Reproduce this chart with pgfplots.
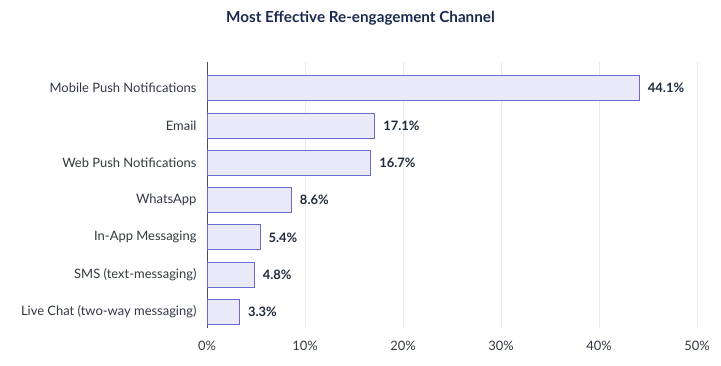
\documentclass[border=0pt]{standalone}
\usepackage{pgfplots}
\pgfplotsset{compat=1.18}
\usepackage{fontspec}
\setmainfont{Lato}
\definecolor{barfill}{HTML}{EAEAF9}
\definecolor{barline}{HTML}{6B6BD1}
\definecolor{gridgray}{HTML}{EBEBEF}
\definecolor{titlenavy}{HTML}{1B2A4E}
\definecolor{labelgray}{HTML}{333840}
\definecolor{valnavy}{HTML}{1E2A3A}
\begin{document}
\begin{tikzpicture}
\path[use as bounding box] (-207bp,-38bp) rectangle (514bp,328bp);
\node[font=\fontsize{15.3}{18}\selectfont\bfseries, text=titlenavy] at (153.5bp,310bp) {Most Effective Re-engagement Channel};
\begin{axis}[
  scale only axis, width=490bp, height=266bp,
  xmin=0, xmax=50, ymin=-0.43, ymax=6.7,
  xtick={0,10,20,30,40,50},
  xticklabels={0\%,10\%,20\%,30\%,40\%,50\%},
  ytick={0,1,2,3,4,5,6},
  yticklabels={Live Chat (two-way messaging),SMS (text-messaging),In-App Messaging,WhatsApp,Web Push Notifications,Email,Mobile Push Notifications},
  xmajorgrids, grid style={draw=gridgray, line width=0.7pt},
  axis y line*=left, axis x line*=bottom,
  x axis line style={draw=none},
  y axis line style={draw=black!70, line width=0.8pt, -},
  major tick length=0pt,
  tick label style={font=\fontsize{13}{15}\selectfont, text=labelgray},
  yticklabel style={xshift=-7bp},
  xticklabel style={yshift=-10bp},
]
\addplot[xbar, bar width=25bp, fill=barfill, draw=barline, line width=0.8pt,
  point meta=x,
  nodes near coords={\pgfmathprintnumber[fixed,fixed zerofill,precision=1,assume math mode=true]{\pgfplotspointmeta}\%},
  every node near coord/.append style={anchor=west, xshift=5bp, font=\fontsize{13}{15}\selectfont\bfseries, text=valnavy}]
coordinates {(3.3,0) (4.8,1) (5.4,2) (8.6,3) (16.7,4) (17.1,5) (44.1,6)};
\end{axis}
\end{tikzpicture}
\end{document}
